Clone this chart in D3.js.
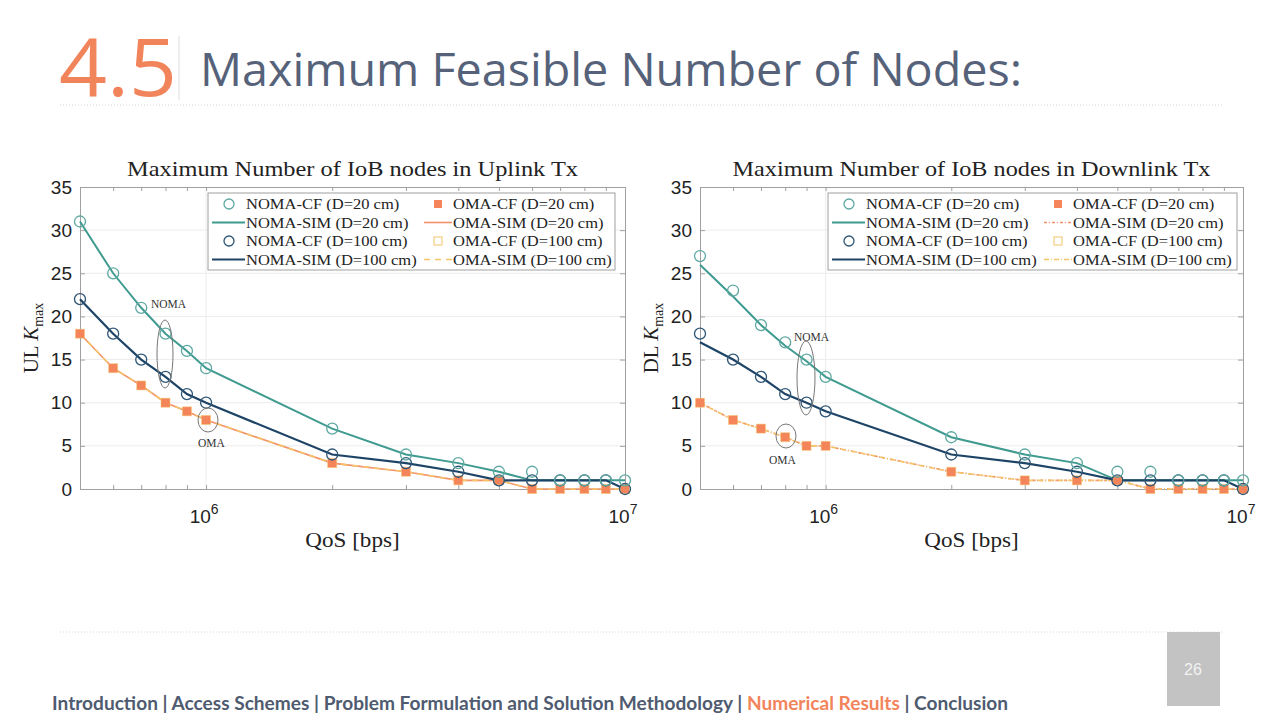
<!DOCTYPE html>
<html><head><meta charset="utf-8">
<script src="https://cdn.jsdelivr.net/npm/d3@7"></script>
<style>
body{margin:0;background:#fff;}
svg{display:block;}
</style></head>
<body>
<svg id="c" width="1280" height="720"></svg>
<script>
// ---- data ----
const qos = [5e5, 6e5, 7e5, 8e5, 9e5, 1e6, 2e6, 3e6, 4e6, 5e6, 6e6, 7e6, 8e6, 9e6, 1e7];
const yTicks = [0, 5, 10, 15, 20, 25, 30, 35];
const xTickExps = [6, 7];

// Uplink
const ulNomaCF20  = [31, 25, 21, 18, 16, 14, 7, 4, 3, 2, 2, 1, 1, 1, 1];
const ulNomaSim20 = [31, 25, 21, 18, 16, 14, 7, 4, 3, 2, 1, 1, 1, 1, 1];
const ulNomaCF100 = [22, 18, 15, 13, 11, 10, 4, 3, 2, 1, 1, 1, 1, 1, 0];
const ulNomaSim100= [22, 18, 15, 13, 11, 10, 4, 3, 2, 1, 1, 1, 1, 1, 0];
const ulOmaCF20   = [18, 14, 12, 10, 9, 8, 3, 2, 1, 1, 0, 0, 0, 0, 0];
const ulOmaSim20  = [18, 14, 12, 10, 9, 8, 3, 2, 1, 1, 0, 0, 0, 0, 0];
const ulOmaCF100  = [18, 14, 12, 10, 9, 8, 3, 2, 1, 1, 0, 0, 0, 0, 0];
const ulOmaSim100 = [18, 14, 12, 10, 9, 8, 3, 2, 1, 1, 0, 0, 0, 0, 0];

// Downlink
const dlNomaCF20  = [27, 23, 19, 17, 15, 13, 6, 4, 3, 2, 2, 1, 1, 1, 1];
const dlNomaSim20 = [26, 22.3, 19, 16.6, 14.8, 13, 6, 4, 3, 1, 1, 1, 1, 1, 1];
const dlNomaCF100 = [18, 15, 13, 11, 10, 9, 4, 3, 2, 1, 1, 1, 1, 1, 0];
const dlNomaSim100= [17, 15, 13, 11, 10, 9, 4, 3, 2, 1, 1, 1, 1, 1, 0];
const dlOmaCF20   = [10, 8, 7, 6, 5, 5, 2, 1, 1, 1, 0, 0, 0, 0, 0];
const dlOmaSim20  = [10, 8, 7, 6, 5, 5, 2, 1, 1, 1, 0, 0, 0, 0, 0];
const dlOmaCF100  = [10, 8, 7, 6, 5, 5, 2, 1, 1, 1, 0, 0, 0, 0, 0];
const dlOmaSim100 = [10, 8, 7, 6, 5, 5, 2, 1, 1, 1, 0, 0, 0, 0, 0];

const legendLabels = ["NOMA-CF (D=20 cm)", "NOMA-SIM (D=20 cm)", "NOMA-CF (D=100 cm)", "NOMA-SIM (D=100 cm)",
                      "OMA-CF (D=20 cm)", "OMA-SIM (D=20 cm)", "OMA-CF (D=100 cm)", "OMA-SIM (D=100 cm)"];
const footerItems = ["Introduction", "Access Schemes ", "Problem Formulation and Solution Methodology", "Numerical Results", "Conclusion"];

// ---- style ----
const C_TEAL = "#3f9a90", C_NAVY = "#1d4466", C_ORANGE = "#f4845a", C_YELLOW = "#f5c46a", C_ORLINE = "#f29268";
const SERIF = "'Liberation Serif','DejaVu Serif',serif";
const SANS = "'Liberation Sans',Arial,sans-serif";

const svg = d3.select("#c");

function stretch(sel, factor) {
  const n = sel.node();
  const len = n.getComputedTextLength();
  sel.attr("textLength", len * factor).attr("lengthAdjust", "spacingAndGlyphs");
}

// ---- header ----
svg.append("text").attr("x", 59).attr("y", 96).attr("font-family", "'Open Sans',sans-serif")
  .attr("font-size", 80).attr("fill", "#f2845c").attr("textLength", 118).attr("lengthAdjust", "spacingAndGlyphs").text("4.5");
svg.append("line").attr("x1", 179).attr("x2", 179).attr("y1", 36).attr("y2", 100).attr("stroke", "#ddd");
svg.append("text").attr("x", 200).attr("y", 86).attr("font-family", "'Open Sans',sans-serif")
  .attr("font-size", 46).attr("fill", "#56627a").attr("textLength", 822).attr("lengthAdjust", "spacingAndGlyphs")
  .text("Maximum Feasible Number of Nodes:");
svg.append("line").attr("x1", 60).attr("x2", 1222).attr("y1", 105).attr("y2", 105)
  .attr("stroke", "#d6d6d6").attr("stroke-dasharray", "1,2");
svg.append("line").attr("x1", 60).attr("x2", 1222).attr("y1", 632).attr("y2", 632)
  .attr("stroke", "#d6d6d6").attr("stroke-dasharray", "1,2");
svg.append("rect").attr("x", 1167).attr("y", 632).attr("width", 53).attr("height", 74).attr("fill", "#c3c3c3");
svg.append("text").attr("x", 1193).attr("y", 675).attr("text-anchor", "middle").attr("font-family", SANS)
  .attr("font-size", 16).attr("fill", "#f2f2f2").text("26");

const foot = svg.append("text").attr("x", 52).attr("y", 710).attr("font-family", "'Lato','Open Sans',sans-serif")
  .attr("font-size", 18).attr("font-weight", "bold").attr("fill", "#4f5b70")
  .attr("textLength", 956).attr("lengthAdjust", "spacingAndGlyphs");
footerItems.forEach((t, i) => {
  if (i > 0) foot.append("tspan").text(" | ");
  foot.append("tspan").attr("fill", t === "Numerical Results" ? "#f2845c" : "#4f5b70").text(t);
});

// ---- chart builder ----
function panel(o) {
  const g = svg.append("g");
  const x = d3.scaleLog().domain([5e5, 1e7]).range([o.x0, o.x1]);
  const y = d3.scaleLinear().domain([0, 35]).range([o.y1, o.y0]);

  // grid
  g.selectAll(".gy").data(yTicks.slice(1, -1)).join("line")
    .attr("x1", o.x0).attr("x2", o.x1).attr("y1", d => y(d)).attr("y2", d => y(d))
    .attr("stroke", "#ececec").attr("stroke-width", 1);
  g.append("line").attr("x1", x(1e6)).attr("x2", x(1e6)).attr("y1", o.y0).attr("y2", o.y1)
    .attr("stroke", "#ececec");

  // axes
  const minor = [];
  for (let e = 5; e <= 6; e++) for (let m = 1; m <= 9; m++) { const v = m * Math.pow(10, e); if (v >= 5e5 && v <= 1e7) minor.push(v); }
  minor.push(1e7);
  const axB = d3.axisBottom(x).tickValues(minor).tickSize(-4).tickFormat("");
  const axT = d3.axisTop(x).tickValues(minor).tickSize(-4).tickFormat("");
  const axL = d3.axisLeft(y).tickValues(yTicks).tickSize(-5).tickPadding(8);
  const axR = d3.axisRight(y).tickValues(yTicks).tickSize(-5).tickFormat("");
  [[axB, `translate(0,${o.y1})`], [axT, `translate(0,${o.y0})`], [axL, `translate(${o.x0},0)`], [axR, `translate(${o.x1},0)`]]
    .forEach(([a, t]) => {
      const ag = g.append("g").attr("transform", t).call(a);
      ag.select(".domain").attr("stroke", "#a0a0a0");
      ag.selectAll(".tick line").attr("stroke", "#a0a0a0");
      ag.selectAll("text").attr("font-family", SANS).attr("font-size", 19).attr("fill", "#222");
    });
  // x labels 10^n
  xTickExps.forEach(e => {
    const t = g.append("text").attr("x", x(Math.pow(10, e)) - 2).attr("y", o.y1 + 34).attr("text-anchor", "middle")
      .attr("font-family", SANS).attr("font-size", 19).attr("fill", "#222");
    t.append("tspan").text("10");
    t.append("tspan").attr("dy", -9).attr("font-size", 14).text(e);
  });

  // titles
  const tt = g.append("text").attr("x", (o.x0 + o.x1) / 2).attr("y", 176).attr("text-anchor", "middle")
    .attr("font-family", SERIF).attr("font-size", 21).attr("fill", "#222").text(o.title);
  tt.attr("textLength", o.titleW).attr("lengthAdjust", "spacingAndGlyphs");
  const xl = g.append("text").attr("x", (o.x0 + o.x1) / 2).attr("y", 547).attr("text-anchor", "middle")
    .attr("font-family", SERIF).attr("font-size", 21).attr("fill", "#222").text("QoS [bps]");
  stretch(xl, 1.1);
  const yl = g.append("text").attr("transform", `translate(${o.x0 - 42},${(o.y0 + o.y1) / 2}) rotate(-90)`)
    .attr("text-anchor", "middle").attr("font-family", SERIF).attr("font-size", 21).attr("fill", "#222");
  yl.append("tspan").text(o.ylab + " ");
  yl.append("tspan").attr("font-style", "italic").text("K");
  yl.append("tspan").attr("font-size", 14).attr("dy", 5).text("max");

  const line = d3.line().x((d, i) => x(qos[i])).y(d => y(d));
  const s = o.series;
  // OMA lines
  g.append("path").attr("d", line(s.omaSim20)).attr("fill", "none").attr("stroke", C_ORLINE)
    .attr("stroke-width", 1.6).attr("stroke-dasharray", o.oma20dash || null);
  g.append("path").attr("d", line(s.omaSim100)).attr("fill", "none").attr("stroke", C_YELLOW)
    .attr("stroke-width", 1.6).attr("stroke-dasharray", o.oma100dash);
  // NOMA lines
  g.append("path").attr("d", line(s.nomaSim20)).attr("fill", "none").attr("stroke", C_TEAL).attr("stroke-width", 2);
  g.append("path").attr("d", line(s.nomaSim100)).attr("fill", "none").attr("stroke", C_NAVY).attr("stroke-width", 2.2);

  // markers
  g.selectAll(".oc20").data(s.omaCF20).join("rect")
    .attr("x", (d, i) => x(qos[i]) - 4.5).attr("y", d => y(d) - 4.5).attr("width", 9).attr("height", 9).attr("fill", C_ORANGE);
  g.selectAll(".oc100").data(s.omaCF100).join("rect")
    .attr("x", (d, i) => x(qos[i]) - 4.5).attr("y", d => y(d) - 4.5).attr("width", 9).attr("height", 9)
    .attr("fill", "none").attr("stroke", C_YELLOW).attr("stroke-width", 0.8).attr("opacity", 0.6);
  g.selectAll(".nc100").data(s.nomaCF100).join("circle")
    .attr("cx", (d, i) => x(qos[i])).attr("cy", d => y(d)).attr("r", 5.5)
    .attr("fill", "none").attr("stroke", "#2f5575").attr("stroke-width", 1.3);
  g.selectAll(".nc20").data(s.nomaCF20).join("circle")
    .attr("cx", (d, i) => x(qos[i])).attr("cy", d => y(d)).attr("r", 5.5)
    .attr("fill", "none").attr("stroke", "#5ea8a2").attr("stroke-width", 1.3);

  // annotations
  g.append("ellipse").attr("cx", o.nomaEll[0]).attr("cy", o.nomaEll[1]).attr("rx", o.nomaEll[2]).attr("ry", o.nomaEll[3])
    .attr("fill", "none").attr("stroke", "#777").attr("stroke-width", 1);
  g.append("text").attr("x", o.nomaTxt[0]).attr("y", o.nomaTxt[1]).attr("font-family", SERIF).attr("font-size", 11.5)
    .attr("fill", "#333").text("NOMA");
  g.append("ellipse").attr("cx", o.omaEll[0]).attr("cy", o.omaEll[1]).attr("rx", o.omaEll[2]).attr("ry", o.omaEll[3])
    .attr("fill", "none").attr("stroke", "#777").attr("stroke-width", 1);
  g.append("text").attr("x", o.omaTxt[0]).attr("y", o.omaTxt[1]).attr("font-family", SERIF).attr("font-size", 11.5)
    .attr("fill", "#333").text("OMA");

  // legend
  const L = o.leg;
  g.append("rect").attr("x", L.x).attr("y", L.y).attr("width", L.w).attr("height", 77)
    .attr("fill", "#fff").attr("stroke", "#a0a0a0");
  const colX = [L.x + 4, L.x + 216];
  legendLabels.forEach((lab, i) => {
    const col = Math.floor(i / 4), row = i % 4;
    const cx = colX[col], cy = L.y + 11 + row * 18.5;
    const sym = g.append("g");
    if (i === 0 || i === 2) sym.append("circle").attr("cx", cx + 17).attr("cy", cy).attr("r", 5)
      .attr("fill", "none").attr("stroke", i === 0 ? "#5ea8a2" : "#2f5575").attr("stroke-width", 1.3);
    if (i === 1 || i === 3) sym.append("line").attr("x1", cx).attr("x2", cx + 33).attr("y1", cy).attr("y2", cy)
      .attr("stroke", i === 1 ? C_TEAL : C_NAVY).attr("stroke-width", 2.2);
    if (i === 4) sym.append("rect").attr("x", cx + 10).attr("y", cy - 4).attr("width", 8).attr("height", 8).attr("fill", C_ORANGE);
    if (i === 6) sym.append("rect").attr("x", cx + 10).attr("y", cy - 4).attr("width", 8).attr("height", 8)
      .attr("fill", "none").attr("stroke", C_YELLOW).attr("stroke-width", 1);
    if (i === 5) sym.append("line").attr("x1", cx).attr("x2", cx + 28).attr("y1", cy).attr("y2", cy)
      .attr("stroke", C_ORLINE).attr("stroke-width", 1.6).attr("stroke-dasharray", o.oma20dash || null);
    if (i === 7) sym.append("line").attr("x1", cx).attr("x2", cx + 28).attr("y1", cy).attr("y2", cy)
      .attr("stroke", C_YELLOW).attr("stroke-width", 1.6).attr("stroke-dasharray", o.oma100dash);
    const tx = g.append("text").attr("x", cx + (col === 0 ? 34 : 29)).attr("y", cy + 5).attr("font-family", SERIF)
      .attr("font-size", 15).attr("fill", "#222").text(lab);
    stretch(tx, 1.1);
  });
}

panel({
  x0: 80, x1: 625, y0: 187, y1: 489, title: "Maximum Number of IoB nodes in Uplink Tx", titleW: 451, ylab: "UL",
  series: { nomaCF20: ulNomaCF20, nomaSim20: ulNomaSim20, nomaCF100: ulNomaCF100, nomaSim100: ulNomaSim100,
            omaCF20: ulOmaCF20, omaSim20: ulOmaSim20, omaCF100: ulOmaCF100, omaSim100: ulOmaSim100 },
  oma20dash: null, oma100dash: "6,5",
  nomaEll: [165, 354, 8, 34], nomaTxt: [151, 308], omaEll: [208, 420, 10, 12], omaTxt: [198, 447],
  leg: { x: 208, y: 193, w: 407 }
});
panel({
  x0: 700, x1: 1243, y0: 187, y1: 489, title: "Maximum Number of IoB nodes in Downlink Tx", titleW: 478, ylab: "DL",
  series: { nomaCF20: dlNomaCF20, nomaSim20: dlNomaSim20, nomaCF100: dlNomaCF100, nomaSim100: dlNomaSim100,
            omaCF20: dlOmaCF20, omaSim20: dlOmaSim20, omaCF100: dlOmaCF100, omaSim100: dlOmaSim100 },
  oma20dash: "3,2,1,2", oma100dash: "5,2,1,2",
  nomaEll: [806, 378, 9, 37], nomaTxt: [794, 341], omaEll: [786, 436, 10, 12], omaTxt: [769, 464],
  leg: { x: 828, y: 193, w: 409 }
});
</script>
</body></html>
